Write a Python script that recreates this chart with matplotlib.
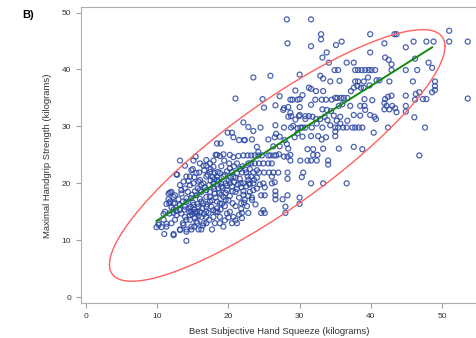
import numpy as np
import matplotlib
matplotlib.use("Agg")
import matplotlib.pyplot as plt

plt.rcParams['font.family'] = ['Liberation Sans', 'DejaVu Sans']

# (best subjective squeeze, maximal handgrip) in kg
pts_high = [
    (28.2, 48.8), (31.6, 48.8), (51.0, 46.8), (28.3, 44.6), (33.0, 46.2), (33.0, 45.3), (31.6, 44.1),
    (39.9, 46.2), (43.3, 46.2), (43.6, 46.2), (35.1, 44.3), (35.9, 44.9), (51.0, 44.9), (53.6, 44.9),
    (46.0, 44.9), (47.8, 44.9), (48.8, 44.9), (41.9, 44.6), (44.9, 43.9), (39.9, 43.0), (33.8, 43.0),
    (33.2, 42.1), (42.0, 42.1), (42.5, 41.7), (34.1, 41.2), (36.6, 41.2), (37.6, 41.2), (42.9, 40.9),
    (46.2, 41.9), (48.1, 41.2), (48.6, 40.3), (46.5, 39.9), (44.9, 39.9), (42.9, 39.9),
    (37.8, 39.9), (38.2, 39.9), (38.7, 39.9), (39.2, 39.9), (39.7, 39.9), (40.1, 39.9), (40.6, 39.9),
    (34.9, 39.9), (35.4, 39.9),
    (23.5, 38.6), (25.9, 38.9), (30.0, 39.1), (32.9, 38.9), (33.3, 38.4), (35.6, 38.0), (34.3, 37.9),
    (37.8, 37.9), (38.2, 37.9), (39.0, 37.9), (39.6, 38.6), (40.8, 38.1), (41.2, 38.1), (42.6, 37.9),
    (45.9, 37.9), (49.0, 37.9), (49.0, 37.1), (49.0, 36.4), (48.6, 36.0), (46.8, 36.0), (46.3, 35.7),
    (44.9, 35.4), (47.3, 34.8), (47.8, 34.8), (53.6, 34.9), (46.2, 34.7), (24.8, 34.8), (27.2, 35.3),
    (29.4, 36.3), (30.4, 35.5), (31.3, 36.8), (31.6, 36.6), (32.3, 36.2), (33.3, 36.2),
    (35.0, 35.0), (35.3, 35.0), (35.8, 35.0), (36.2, 35.0), (36.7, 35.0),
    (37.2, 36.2), (37.6, 36.8), (38.1, 37.1), (38.6, 36.8), (39.0, 36.8), (39.8, 37.2),
    (42.0, 34.8), (42.4, 35.2), (42.9, 35.4), (39.1, 34.8), (40.2, 34.6), (21.0, 34.9),
]

pts_mid = [
    (26.6, 33.7), (25.0, 33.3), (27.8, 33.2), (28.7, 34.7), (30.0, 34.8), (30.0, 33.4), (31.6, 33.8),
    (32.2, 34.7), (33.1, 34.7), (33.7, 34.7), (34.5, 34.7), (33.2, 33.0), (34.4, 32.7), (35.5, 33.6),
    (36.0, 33.9), (37.1, 33.6), (38.5, 33.6), (39.1, 33.6), (41.9, 34.1), (42.2, 33.6), (43.0, 33.6),
    (43.4, 33.2), (43.6, 32.5), (42.6, 33.0), (41.9, 33.0), (44.9, 33.6), (44.9, 32.6), (46.1, 31.6),
    (47.6, 29.8), (42.4, 29.8), (40.4, 28.9), (38.8, 26.0), (46.8, 24.9), (37.6, 32.0), (38.5, 31.9),
    (39.2, 32.9), (39.9, 32.0), (40.5, 31.7), (40.7, 31.3),
    (37.4, 29.8), (37.8, 29.8), (38.3, 29.8), (38.8, 29.8), (36.1, 29.8), (36.6, 29.8), (35.4, 29.8),
    (35.0, 29.8), (34.3, 30.2), (33.2, 29.8), (32.6, 28.3), (31.6, 28.3), (31.7, 29.8), (30.8, 29.8),
    (30.4, 29.8), (30.1, 29.8), (35.0, 29.1), (35.0, 28.3), (35.5, 26.1), (37.6, 26.4), (33.3, 26.1),
    (31.9, 26.0), (31.1, 26.0), (31.9, 25.0), (32.5, 25.0), (31.6, 24.0), (32.4, 24.0), (31.1, 24.0),
    (34.0, 24.0), (34.0, 23.3), (30.1, 24.0), (28.7, 25.0), (28.7, 24.0), (26.3, 26.5), (27.2, 28.2),
    (27.8, 29.8), (28.8, 29.8), (29.1, 30.1), (29.7, 28.8), (29.7, 29.7), (29.4, 31.2), (30.0, 32.0),
    (30.8, 31.3), (26.6, 30.2), (24.5, 29.8), (23.3, 27.7), (22.3, 27.6), (24.0, 26.4), (24.2, 25.5),
    (25.6, 27.7), (26.5, 28.1), (27.7, 32.9), (28.4, 33.4), (29.0, 34.7), (29.7, 34.7),
    (28.8, 31.8), (29.9, 31.8), (30.8, 31.8), (31.3, 31.8), (33.8, 32.9), (31.8, 31.7), (32.3, 31.3),
    (32.9, 31.3), (33.5, 31.7), (33.9, 31.1), (35.7, 31.7), (35.2, 31.0), (35.7, 30.5), (36.7, 31.0),
    (34.8, 31.9), (29.3, 28.1), (30.4, 28.2), (33.1, 27.7), (33.7, 28.1), (27.9, 27.6), (28.2, 26.9),
    (28.4, 26.1), (22.1, 30.7), (22.8, 29.9), (23.5, 29.2), (26.7, 28.7), (28.7, 32.4), (28.4, 31.7),
    (32.4, 30.5), (19.9, 28.9), (20.5, 28.9), (20.7, 28.1), (21.5, 27.6), (22.2, 27.6), (18.4, 27.0),
    (18.9, 27.0), (18.2, 25.0), (18.8, 24.8), (19.3, 25.1),
    (22.1, 24.9), (22.7, 24.9), (23.2, 24.9), (23.7, 24.9), (24.2, 24.9), (24.7, 24.9), (25.6, 24.9),
    (25.9, 24.9), (26.4, 24.9), (26.7, 24.9),
    (22.8, 23.5), (23.2, 23.5), (23.7, 23.5), (24.3, 23.5), (24.9, 23.5), (25.6, 23.5), (26.1, 23.5),
    (27.2, 26.5), (27.8, 24.7), (28.3, 24.7), (27.1, 25.1),
    (13.2, 24.0), (15.1, 24.0), (13.9, 23.1), (16.5, 23.1), (16.9, 23.1), (17.4, 23.5), (17.9, 24.0),
    (18.4, 25.0), (19.4, 24.0), (20.1, 23.5), (20.2, 25.0), (20.7, 24.6), (21.4, 24.8), (21.2, 23.5),
    (20.2, 22.6), (15.4, 24.7), (16.0, 23.5), (16.9, 24.1), (17.9, 22.9), (12.8, 21.5),
]

pts_low = [
    (21.9, 21.9), (22.5, 21.9), (23.5, 21.9), (24.3, 21.9), (25.0, 21.9), (25.7, 21.9), (26.3, 21.9),
    (27.0, 21.9), (28.3, 21.9), (30.5, 21.9),
    (30.3, 21.1), (28.3, 20.8), (26.1, 21.2), (26.5, 20.2), (26.1, 20.0),
    (24.9, 20.0), (23.5, 20.0), (22.9, 20.0), (22.1, 20.0), (21.7, 20.0), (31.6, 20.0), (33.3, 20.0),
    (36.6, 20.0),
    (25.1, 19.3), (24.6, 17.9), (25.1, 17.9), (26.6, 18.6), (26.6, 17.9), (26.6, 17.2), (27.6, 17.2),
    (28.3, 17.9), (30.0, 17.5), (30.0, 16.4), (28.0, 15.9), (28.0, 14.8), (22.8, 14.8), (24.6, 14.8),
    (25.1, 14.8), (24.9, 15.3), (21.9, 14.8), (21.9, 13.9), (22.3, 17.1), (23.3, 17.1), (23.3, 17.5),
    (22.1, 18.0), (22.1, 18.6), (21.8, 19.3), (22.5, 19.5), (23.0, 18.5), (21.8, 16.5), (22.6, 16.0),
    (23.8, 16.3), (21.8, 15.5), (23.0, 19.8), (24.0, 21.0), (22.7, 21.2),
    (9.9, 12.3), (10.6, 12.3), (11.0, 11.1), (12.3, 11.1), (14.1, 9.9), (10.2, 13.0), (10.9, 13.6),
    (11.3, 12.9), (11.7, 14.7), (12.3, 14.8), (12.0, 15.8), (12.3, 16.5), (11.7, 16.5), (13.2, 11.9),
    (13.6, 13.0), (14.1, 11.9), (14.8, 11.9), (15.2, 12.4), (15.8, 11.9), (16.2, 11.9), (15.6, 13.0),
    (16.5, 13.0), (16.9, 13.0), (17.7, 11.9), (18.1, 13.0), (18.8, 13.0), (19.3, 12.4), (20.5, 13.0),
    (21.2, 13.0), (20.7, 14.1), (20.2, 15.0),
    (12.7, 21.6), (14.1, 21.2), (14.6, 19.7), (15.1, 20.0), (13.2, 19.7), (11.8, 18.4), (12.5, 17.9),
    (13.4, 18.2), (13.6, 16.8), (14.1, 17.4), (14.4, 15.6), (14.8, 15.0), (15.1, 16.2), (15.5, 14.7),
    (16.0, 15.0), (16.5, 16.5), (16.9, 15.9), (17.4, 16.8), (17.9, 15.3), (18.4, 15.6), (18.8, 16.5),
    (19.3, 17.6), (19.8, 18.8), (20.2, 20.0), (20.7, 21.2), (21.2, 21.8), (17.9, 20.0), (18.4, 21.2),
    (16.9, 21.2), (16.0, 20.6), (16.2, 18.5), (16.9, 18.8), (18.1, 18.2), (19.3, 21.2), (11.6, 17.2),
    (11.3, 16.4), (12.3, 15.4), (12.7, 15.2), (13.4, 14.7), (13.9, 14.1), (14.6, 13.6), (15.3, 13.9),
    (16.2, 14.1), (16.9, 14.1), (17.9, 14.1), (18.8, 14.1), (19.8, 14.7),
    (14.8, 22.3), (15.5, 21.8), (14.6, 21.2), (13.7, 20.3), (13.4, 18.8), (12.0, 18.5), (11.6, 18.2),
    (12.3, 17.6), (11.8, 16.8), (12.5, 16.5), (11.1, 15.0), (10.9, 14.6), (10.2, 12.7), (11.3, 12.4),
    (12.0, 13.0), (12.5, 13.6), (12.7, 14.4), (13.2, 15.3), (13.9, 15.9), (14.1, 16.8), (14.8, 17.4),
    (15.5, 17.9), (16.0, 18.8), (16.5, 20.0), (17.4, 22.0), (18.1, 21.8), (18.4, 20.6), (17.9, 19.4),
    (17.4, 18.5), (16.9, 17.6), (16.2, 16.8), (15.8, 15.9), (15.3, 15.0), (14.6, 14.4), (14.1, 13.6),
    (13.7, 12.7), (13.2, 11.8), (12.3, 10.9), (14.1, 11.5), (14.8, 12.4), (15.5, 13.3), (16.9, 15.0),
    (17.6, 15.9), (18.4, 16.8), (18.6, 19.1),
    (20.0, 20.5), (20.5, 19.5), (21.0, 18.5), (21.5, 17.5), (20.0, 17.0), (19.5, 16.0), (21.0, 16.0),
    (21.5, 14.5), (19.0, 20.0), (19.5, 21.5), (20.5, 22.0), (21.0, 21.0), (19.0, 18.0), (18.0, 19.0),
    (17.5, 20.5), (20.0, 14.0), (21.0, 13.5), (19.5, 13.5), (18.5, 15.0), (15.0, 22.5), (17.5, 22.5),
    (18.5, 22.0), (19.0, 23.0), (22.0, 23.0), (23.0, 22.5),
]

# the thick blob round 15-22 kg, where rings pile up
pts_dense = [
    (14.5, 15.0), (14.9, 14.6), (15.2, 15.4), (15.6, 15.0), (14.7, 15.9), (15.0, 16.6), (15.7, 16.4),
    (16.3, 15.6), (16.6, 14.6), (17.2, 14.8), (17.0, 16.3), (17.7, 17.0), (18.2, 17.5), (18.7, 18.3),
    (19.2, 19.2), (19.6, 20.0), (20.3, 21.0), (20.8, 20.2), (21.3, 19.8), (21.6, 20.8), (19.8, 19.6),
    (19.0, 19.4), (18.6, 20.3), (18.0, 20.7), (17.3, 19.7), (16.7, 19.3), (16.2, 19.8), (15.7, 19.1),
    (15.3, 18.6), (14.9, 18.0), (14.3, 18.5), (13.9, 19.1), (14.4, 20.4), (15.2, 21.1), (15.9, 21.9),
    (16.6, 22.3), (17.1, 21.5), (17.8, 21.1), (18.8, 21.8), (19.8, 22.1), (20.8, 23.0), (21.6, 22.5),
    (22.4, 22.4), (23.2, 21.2), (23.6, 20.6), (24.4, 19.8), (24.0, 19.1), (23.5, 18.8), (22.8, 17.8),
    (22.2, 16.6), (20.6, 16.5), (20.2, 17.8), (19.6, 17.1), (19.1, 16.4), (18.9, 15.4), (18.2, 15.0),
    (17.3, 13.6), (16.4, 12.6), (15.8, 14.3), (13.8, 15.4), (13.2, 16.2), (13.0, 17.2), (16.0, 17.3),
    (17.4, 17.6), (15.8, 20.3), (22.8, 20.6), (21.2, 19.0), (20.6, 18.6), (19.6, 18.3), (24.0, 22.3),
]

# regression line and 95% density ellipse
fit_slope, fit_intercept = 0.788, 5.6
fit_range = [9.9, 48.6]
ell_center = (26.85, 24.9)
ell_half = (23.55, 22.1)
ell_r = 0.867

x_ticks = [0, 10, 20, 30, 40, 50]
y_ticks = [0, 10, 20, 30, 40, 50]

pts = np.array(pts_high + pts_mid + pts_low + pts_dense)

fig = plt.figure(figsize=(4.77, 3.38), dpi=100)
ax = fig.add_axes([0.169, 0.103, 0.831, 0.875])

ax.scatter(pts[:, 0], pts[:, 1], s=13, facecolors='none', edgecolors='#2b47a3',
           linewidths=0.9, alpha=0.85, zorder=2)

lx = np.array(fit_range)
ax.plot(lx, fit_slope * lx + fit_intercept, color='#108a10', lw=1.4, zorder=3)

t = np.linspace(0, 2 * np.pi, 300)
ex = ell_center[0] + ell_half[0] * np.cos(t)
ey = ell_center[1] + ell_half[1] * (ell_r * np.cos(t) + np.sqrt(1 - ell_r ** 2) * np.sin(t))
ax.plot(ex, ey, color='#ff6060', lw=1.0, zorder=3)

ax.set_xlim(-0.75, 54.9)
ax.set_ylim(-1.05, 50.9)
ax.set_xticks(x_ticks)
ax.set_yticks(y_ticks)
ax.tick_params(labelsize=6, colors='#a0a0a0', labelcolor='#333333', length=3.5, width=0.8)
for side in ['left', 'bottom', 'top']:
    ax.spines[side].set_color('#b0b0b0')
    ax.spines[side].set_linewidth(0.8)
ax.spines['right'].set_visible(False)

ax.set_xlabel('Best Subjective Hand Squeeze (kilograms)', fontsize=6.8, color='#333333', labelpad=5)
ax.set_ylabel('Maximal Handgrip Strength (kilograms)', fontsize=6.8, color='#333333', labelpad=7)
fig.text(0.046, 0.955, 'B)', fontsize=8, fontweight='bold', va='center')

fig.savefig('out.png', dpi=100)
